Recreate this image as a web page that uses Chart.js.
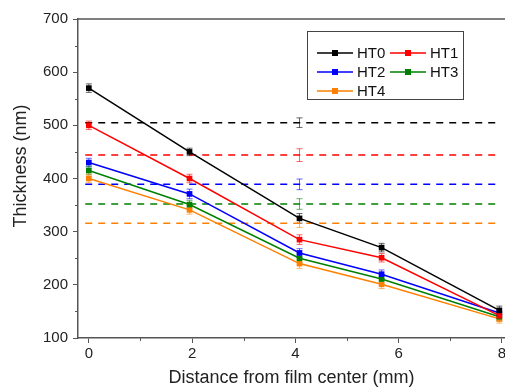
<!DOCTYPE html>
<html><head><meta charset="utf-8">
<script src="https://cdn.jsdelivr.net/npm/chart.js@4"></script>
<style>html,body{margin:0;padding:0;background:#fff}#w{width:505px;height:390px}</style>
</head><body><div id="w"><canvas id="c" width="505" height="390"></canvas></div>
<script>
// ---- data ----
const seriesLabels = ['HT0', 'HT1', 'HT2', 'HT3', 'HT4'];
const seriesColors = ['#000000', '#ff0000', '#0000ff', '#008000', '#ff8000'];
const distances = [0, 1.95, 4.08, 5.67, 7.95];
const ht0 = [570, 450, 325, 270, 152];
const ht1 = [500, 400, 285, 251, 142];
const ht2 = [430, 371, 260, 220, 147];
const ht3 = [415, 351, 250, 211, 140];
const ht4 = [400, 341, 240, 201, 136];
const ht0Err = [8, 7, 9, 8, 8];
const ht1Err = [8, 8, 9, 8, 8];
const ht2Err = [8, 9, 8, 8, 8];
const ht3Err = [8, 8, 8, 8, 8];
const ht4Err = [8, 8, 9, 8, 8];
const refLevels = [505, 444, 389, 352, 316];
const refErr = [9, 12, 10, 10, 8];
const refX = 4.08;
const refSpan = [-0.07, 7.97];
const xTicks = [0, 2, 4, 6, 8];
const xMinorTicks = [1, 3, 5, 7];
const yTicks = [100, 200, 300, 400, 500, 600, 700];
const yMinorTicks = [150, 250, 350, 450, 550, 650];
const xTitle = 'Distance from film center (mm)';
const yTitle = 'Thickness (nm)';

const seriesValues = [ht0, ht1, ht2, ht3, ht4];
const seriesErrs = [ht0Err, ht1Err, ht2Err, ht3Err, ht4Err];
const FONT = '"Liberation Sans", Arial, sans-serif';
const AXIS = '#555555';

function withAlpha(hex, a) {
  const n = parseInt(hex.slice(1), 16);
  return `rgba(${(n >> 16) & 255},${(n >> 8) & 255},${n & 255},${a})`;
}

const datasets = [];
seriesLabels.forEach((lab, i) => {
  datasets.push({
    label: lab,
    isSeries: true,
    data: distances.map((d, j) => ({x: d, y: seriesValues[i][j]})),
    errors: seriesErrs[i],
    borderColor: seriesColors[i],
    backgroundColor: seriesColors[i],
    borderWidth: 1.5,
    pointStyle: 'rect',
    pointRadius: 4,
    pointBorderWidth: 0,
    tension: 0,
    order: 1
  });
});
seriesLabels.forEach((lab, i) => {
  datasets.push({
    label: lab + ' ref',
    isRef: true,
    refErrValue: refErr[i],
    data: [{x: refSpan[0], y: refLevels[i]}, {x: refSpan[1], y: refLevels[i]}],
    borderColor: seriesColors[i],
    borderWidth: 1.5,
    borderDash: [7, 6],
    pointRadius: 0,
    tension: 0,
    order: 2
  });
});

function drawErr(ctx, xs, yTop, yBot, color) {
  ctx.strokeStyle = color;
  ctx.lineWidth = 1;
  ctx.beginPath();
  ctx.moveTo(xs, yTop); ctx.lineTo(xs, yBot);
  ctx.moveTo(xs - 3, yTop); ctx.lineTo(xs + 3, yTop);
  ctx.moveTo(xs - 3, yBot); ctx.lineTo(xs + 3, yBot);
  ctx.stroke();
}

const errorBars = {
  id: 'errorBars',
  beforeDatasetsDraw(chart) {
    const {ctx, scales: {x, y}} = chart;
    ctx.save();
    chart.data.datasets.forEach((ds) => {
      if (ds.isSeries) {
        ds.data.forEach((p, j) => {
          const px = x.getPixelForValue(p.x);
          drawErr(ctx, px, y.getPixelForValue(p.y + ds.errors[j]), y.getPixelForValue(p.y - ds.errors[j]), withAlpha(ds.borderColor, 0.6));
        });
      } else if (ds.isRef) {
        const v = ds.data[0].y;
        const px = x.getPixelForValue(refX);
        drawErr(ctx, px, y.getPixelForValue(v + ds.refErrValue), y.getPixelForValue(v - ds.refErrValue), withAlpha(ds.borderColor, 0.6));
      }
    });
    ctx.restore();
  }
};

const frame = {
  id: 'frame',
  afterDraw(chart) {
    const {ctx, chartArea: a, scales: {x, y}} = chart;
    ctx.save();
    ctx.strokeStyle = AXIS;
    ctx.lineWidth = 1.5;
    ctx.beginPath();
    ctx.moveTo(a.left, a.top); ctx.lineTo(chart.width, a.top);
    ctx.stroke();
    // minor ticks
    ctx.lineWidth = 1;
    ctx.beginPath();
    xMinorTicks.forEach(v => {
      const px = Math.round(x.getPixelForValue(v)) + 0.5;
      ctx.moveTo(px, a.bottom); ctx.lineTo(px, a.bottom + 3);
    });
    yMinorTicks.forEach(v => {
      const py = Math.round(y.getPixelForValue(v)) + 0.5;
      ctx.moveTo(a.left, py); ctx.lineTo(a.left - 3, py);
    });
    ctx.stroke();
    // y title
    ctx.fillStyle = '#222';
    ctx.font = '18px ' + FONT;
    ctx.textAlign = 'center';
    ctx.textBaseline = 'middle';
    ctx.translate(21, 166);
    ctx.rotate(-Math.PI / 2);
    ctx.fillText(yTitle, 0, 0);
    ctx.restore();
  }
};

const legendBox = {
  id: 'legendBox',
  afterDraw(chart) {
    const {ctx} = chart;
    const items = chart.data.datasets.filter(d => d.isSeries);
    ctx.save();
    ctx.fillStyle = '#fff';
    ctx.fillRect(307.5, 31.5, 156, 68);
    ctx.strokeStyle = '#444';
    ctx.lineWidth = 1;
    ctx.strokeRect(307.5, 31.5, 156, 68);
    ctx.font = '15px ' + FONT;
    ctx.textBaseline = 'middle';
    ctx.textAlign = 'left';
    const cols = [317, 390];
    const rows = [53, 72, 91];
    items.forEach((ds, i) => {
      const cx = cols[i % 2], cy = rows[Math.floor(i / 2)];
      ctx.strokeStyle = ds.borderColor;
      ctx.lineWidth = 1.5;
      ctx.beginPath(); ctx.moveTo(cx, cy); ctx.lineTo(cx + 36, cy); ctx.stroke();
      ctx.fillStyle = ds.borderColor;
      ctx.fillRect(cx + 18 - 3, cy - 3, 6, 6);
      ctx.fillStyle = '#111';
      ctx.fillText(ds.label, cx + 40, cy + 1);
    });
    ctx.restore();
  }
};

new Chart(document.getElementById('c'), {
  type: 'line',
  data: {datasets},
  options: {
    responsive: false,
    devicePixelRatio: 1,
    animation: false,
    layout: {padding: {top: 19, right: 0, left: 0, bottom: 0}, autoPadding: false},
    plugins: {legend: {display: false}, tooltip: {enabled: false}},
    scales: {
      x: {
        type: 'linear', min: -0.21, max: 8.06,
        afterBuildTicks: s => { s.ticks = xTicks.map(v => ({value: v})); },
        afterFit: s => { s.height = 52; s.paddingLeft = 0; s.paddingRight = 0; },
        ticks: {font: {size: 15, family: FONT}, color: '#222', padding: 2, maxRotation: 0, autoSkip: false},
        grid: {drawOnChartArea: false, drawTicks: true, tickLength: 5, color: AXIS, lineWidth: 1},
        border: {color: AXIS, width: 1.5},
        title: {display: true, text: xTitle, font: {size: 18, family: FONT}, color: '#222', padding: {top: 0, bottom: 1}}
      },
      y: {
        type: 'linear', min: 100, max: 700,
        afterBuildTicks: s => { s.ticks = yTicks.map(v => ({value: v})); },
        afterFit: s => { s.width = 78; s.paddingTop = 0; s.paddingBottom = 0; },
        ticks: {font: {size: 15, family: FONT}, color: '#222', padding: 5},
        grid: {drawOnChartArea: false, drawTicks: true, tickLength: 5, color: AXIS, lineWidth: 1},
        border: {color: AXIS, width: 1.5}
      }
    }
  },
  plugins: [errorBars, frame, legendBox]
});
</script>
</body></html>
